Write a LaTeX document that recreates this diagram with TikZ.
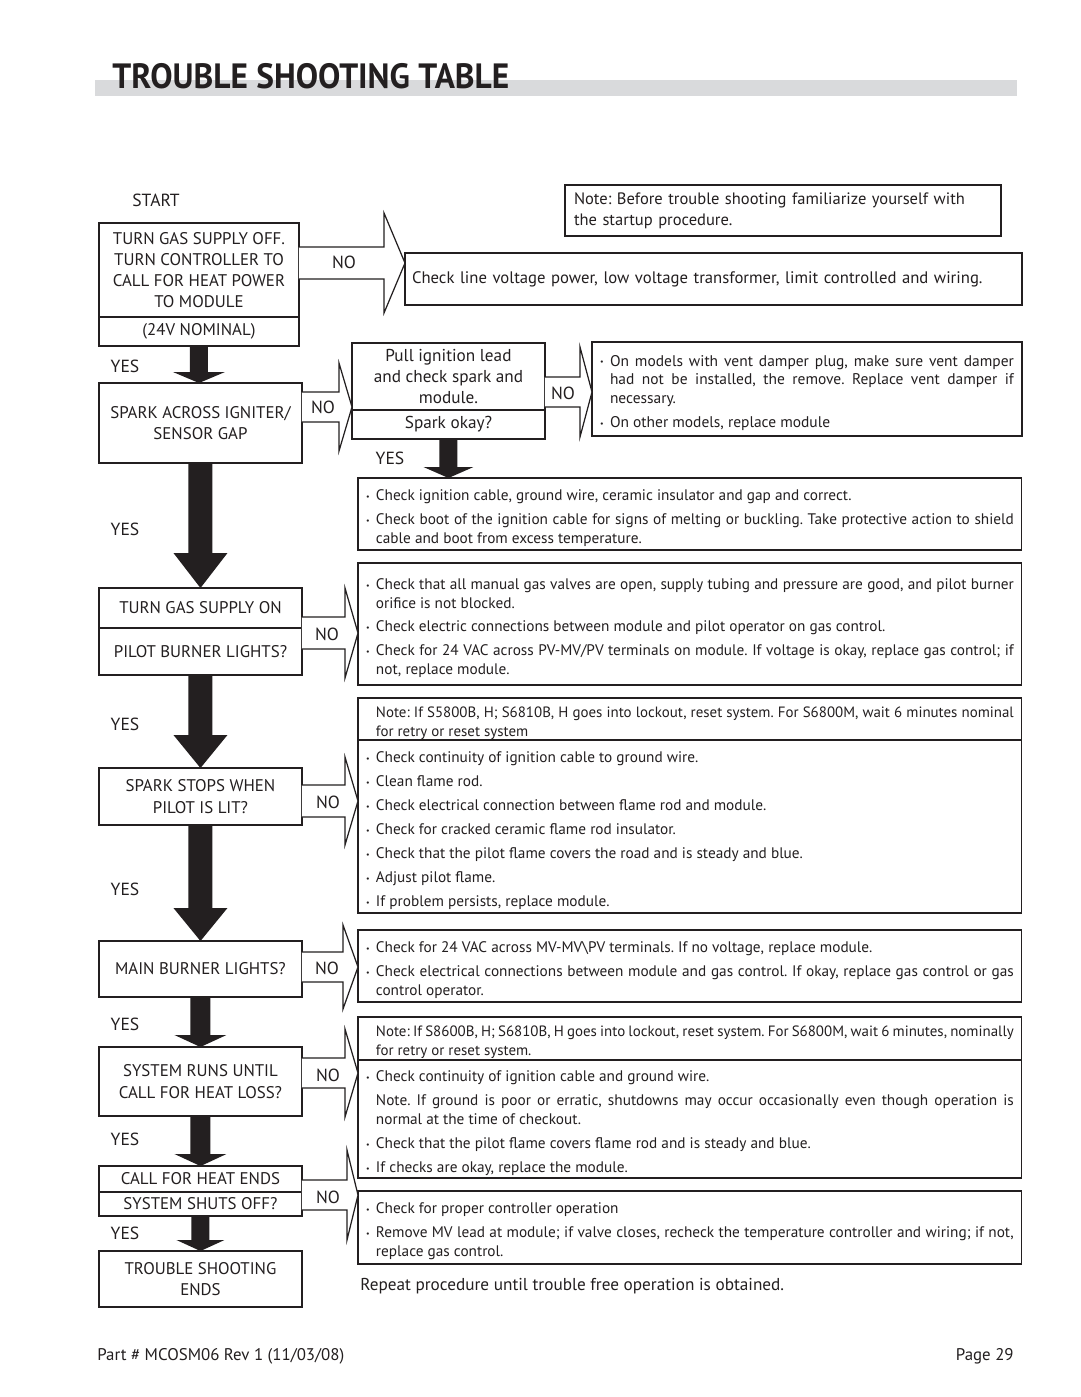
\documentclass[tikz,border=0pt]{standalone}
\usepackage{fontspec}
\setmainfont{PT Sans}
\newfontfamily\titlefont{PT Sans}[FakeStretch=0.95]
\usetikzlibrary{positioning}
\usetikzlibrary{calc}

\definecolor{ink}{HTML}{231F20}
\definecolor{barGray}{HTML}{D9DADC}

\frenchspacing
\newcommand\listfont{\fontsize{8.7}{10.8}\selectfont\frenchspacing\tolerance=10000\hbadness=10000\hyphenpenalty=10000\relax}
\newcommand\notefont{\fontsize{8.5}{10.8}\selectfont\frenchspacing\tolerance=10000\hbadness=10000\hyphenpenalty=10000\relax}
\newcommand\itm{\par\hangindent=0.2cm\hangafter=1\noindent\parskip=2.8pt\relax\hbox to 0.2cm{\raisebox{0.6pt}{\fontsize{4.5}{4.5}\selectfont\textbullet}\hss}}
\newcommand\ntm{\par\hangindent=0.2cm\hangafter=0\noindent\parskip=2.8pt\relax}

\newcommand\yesarrow[5]{%
\fill[yesarr] ($(#1.south)+(-#3,0)$) -- ($(#1.south |- #2.north)+(-#3,-#5)$) -- ($(#1.south |- #2.north)+(-#4,-#5)$) -- (#1.south |- #2.north) -- ($(#1.south |- #2.north)+(#4,-#5)$) -- ($(#1.south |- #2.north)+(#3,-#5)$) -- ($(#1.south)+(#3,0)$) -- cycle;}

\newcommand\noarrow[6]{%
\coordinate (nofrom) at (#1.east |- 0,#3);
\coordinate (noto) at (#2.west |- 0,#3);
\filldraw[noarr] ($(nofrom)+(0,-#4)$) -- ($(noto)+(-#6,-#4)$) -- ($(noto)+(-#6,-#5)$) -- (noto) -- ($(noto)+(-#6,#5)$) -- ($(noto)+(-#6,#4)$) -- ($(nofrom)+(0,#4)$);}

\begin{document}
\begin{tikzpicture}[x=0.02cm, y=-0.02cm,
  lbox/.style={draw=ink, line width=0.7pt, text=ink, align=center, anchor=north west, minimum width=4.06cm, inner sep=0pt, outer sep=0pt, font=\fontsize{9.6}{12.1}\selectfont},
  mbox/.style={draw=ink, line width=0.7pt, text=ink, align=center, anchor=north west, minimum width=3.86cm, inner sep=0pt, outer sep=0pt, font=\fontsize{9.8}{12}\selectfont},
  rbox/.style={draw=ink, line width=0.7pt, text=ink, anchor=north west, align=justify, text width=12.96cm, inner xsep=0.16cm, inner ysep=0pt, outer sep=0pt, font=\listfont},
  lbl/.style={text=ink, inner sep=0pt, font=\fontsize{10}{12}\selectfont},
  noarr/.style={draw=ink, fill=white, line width=0.7pt, line join=miter},
  yesarr/.style={fill=ink}]

\useasboundingbox (0,0) rectangle (1080,1397);
\fill[white] (0,0) rectangle (1080,1397);

\fill[barGray] (95,80) rectangle (1017,96);
\node[anchor=base west, inner sep=0pt, text=ink, font=\titlefont\bfseries\fontsize{20}{20}\selectfont] (title) at (112,88) {TROUBLE SHOOTING TABLE};

\node[lbl] (start) at (156,200) {START};

\node[lbox, minimum width=4cm, minimum height=1.88cm] (supplyoff) at (99,223) {TURN GAS SUPPLY OFF.\\TURN CONTROLLER TO\\CALL FOR HEAT POWER\\TO MODULE};
\node[lbox, minimum width=4cm, minimum height=0.58cm, below=0pt of supplyoff] (nominal) {(24V NOMINAL)};

\node[lbox, minimum height=1.6cm] (sparkgap) at (99,383) {SPARK ACROSS IGNITER/\\SENSOR GAP};

\node[lbox, minimum height=0.8cm] (gason) at (99,588) {TURN GAS SUPPLY ON};
\node[lbox, minimum height=0.94cm, below=0pt of gason] (pilotlights) {PILOT BURNER LIGHTS?};

\node[lbox, minimum height=1.14cm] (sparkstops) at (99,768) {SPARK STOPS WHEN\\PILOT IS LIT?};

\node[lbox, minimum height=1.12cm] (mainlights) at (99,941) {MAIN BURNER LIGHTS?};

\node[lbox, minimum height=1.38cm] (runsuntil) at (99,1047) {SYSTEM RUNS UNTIL\\CALL FOR HEAT LOSS?};

\node[lbox, minimum height=0.52cm] (heatends) at (99,1166) {CALL FOR HEAT ENDS};
\node[lbox, minimum height=0.48cm, below=0pt of heatends] (shutsoff) {SYSTEM SHUTS OFF?};

\node[lbox, minimum height=1.12cm] (tsends) at (99,1251) {TROUBLE SHOOTING\\ENDS};

\node[mbox, minimum height=1.34cm] (pullLead) at (352,343) {Pull ignition lead\\and check spark and\\module.};
\node[mbox, minimum height=0.58cm, below=0pt of pullLead] (sparkok) {Spark okay?};

\node[rbox, align=left, text width=8.36cm, inner xsep=0.18cm, minimum height=1.02cm, font=\fontsize{9.4}{12}\selectfont] (startnote) at (565,185) {Note: Before trouble shooting familiarize yourself with\\the startup procedure.};

\node[rbox, align=left, text width=12.06cm, inner xsep=0.14cm, minimum height=1.04cm, font=\fontsize{9.5}{12}\selectfont] (linecheck) at (405,253) {Check line voltage power, low voltage transformer, limit controlled and wiring.};

\node[rbox, text width=8.28cm, minimum height=1.88cm, font=\listfont\fontsize{8.8}{10.8}\selectfont] (vent) at (592,342) {\itm On models with vent damper plug, make sure vent damper \linebreak had not be installed, the remove. Replace vent damper if \linebreak necessary.
\itm On other models, replace module\par};

\node[rbox, minimum height=1.44cm] (ignition) at (358,478) {\itm Check ignition cable, ground wire, ceramic insulator and gap and correct.
\itm Check boot of the ignition cable for signs of melting or buckling. Take protective action to shield \linebreak cable and boot from excess temperature.\par};

\node[rbox, minimum height=2.44cm] (gascheck) at (358,563) {\itm Check that all manual gas valves are open, supply tubing and pressure are good, and pilot burner \linebreak orifice is not blocked.
\itm Check electric connections between module and pilot operator on gas control.
\itm Check for 24 VAC across PV-MV/PV terminals on module. If voltage is okay, replace gas control; if \linebreak not, replace module.\par};

\node[rbox, minimum height=0.84cm, font=\notefont] (lockA) at (358,698) {\ntm Note: If S5800B, H; S6810B, H goes into lockout, reset system. For S6800M, wait 6 minutes nominal \linebreak for retry or reset system\par};
\node[rbox, minimum height=3.46cm] (flamerod) at (358,740) {\itm Check continuity of ignition cable to ground wire.
\itm Clean flame rod.
\itm Check electrical connection between flame rod and module.
\itm Check for cracked ceramic flame rod insulator.
\itm Check that the pilot flame covers the road and is steady and blue.
\itm Adjust pilot flame.
\itm If problem persists, replace module.\par};

\node[rbox, minimum height=1.44cm] (mvcheck) at (358,930) {\itm Check for 24 VAC across MV-MV\textbackslash PV terminals. If no voltage, replace module.
\itm Check electrical connections between module and gas control. If okay, replace gas control or gas \linebreak control operator.\par};

\node[rbox, minimum height=0.86cm, font=\notefont] (lockB) at (358,1017) {\ntm Note: If S8600B, H; S6810B, H goes into lockout, reset system. For S6800M, wait 6 minutes, nominally \linebreak for retry or reset system.\par};
\node[rbox, minimum height=2.36cm] (continuity) at (358,1060) {\itm Check continuity of ignition cable and ground wire.
\ntm Note. If ground is poor or erratic, shutdowns may occur occasionally even though operation is \linebreak normal at the time of checkout.
\itm Check that the pilot flame covers flame rod and is steady and blue.
\itm If checks are okay, replace the module.\par};

\node[rbox, minimum height=1.46cm] (controller) at (358,1191) {\itm Check for proper controller operation
\itm Remove MV lead at module; if valve closes, recheck the temperature controller and wiring; if not, \linebreak replace gas control.\par};

\node[anchor=base west, inner sep=0pt, text=ink, font=\fontsize{9.8}{11}\selectfont] (repeat) at (360,1290) {Repeat procedure until trouble free operation is obtained.};

\yesarrow{nominal}{sparkgap}{9}{26}{11}
\yesarrow{sparkgap}{gason}{12}{27}{35}
\yesarrow{pilotlights}{sparkstops}{12}{27}{33}
\yesarrow{sparkstops}{mainlights}{12}{27}{33}
\yesarrow{mainlights}{runsuntil}{10}{26}{12}
\yesarrow{runsuntil}{heatends}{10}{26}{12}
\yesarrow{shutsoff}{tsends}{9}{24}{11}
\yesarrow{sparkok}{ignition}{9}{25}{11}

\noarrow{supplyoff}{linecheck}{263}{16}{50}{21}
\noarrow{sparkgap}{pullLead}{407}{15}{44}{13}
\noarrow{pullLead}{vent}{392}{15}{45}{12}
\noarrow{gason}{gascheck}{633}{16}{45}{13}
\noarrow{sparkstops}{flamerod}{801}{16}{44}{13}
\noarrow{mainlights}{mvcheck}{967}{15}{42}{15}
\noarrow{runsuntil}{continuity}{1073}{15}{44}{13}
\noarrow{heatends}{controller}{1195}{15}{45}{11}

\node[lbl] (yes1) at (125,366) {YES};
\node[lbl] (yes2) at (125,529) {YES};
\node[lbl] (yes3) at (125,724) {YES};
\node[lbl] (yes4) at (125,889) {YES};
\node[lbl] (yes5) at (125,1024) {YES};
\node[lbl] (yes6) at (125,1139) {YES};
\node[lbl] (yes7) at (125,1233) {YES};
\node[lbl] (yes8) at (390,458) {YES};

\node[lbl] (no1) at (344,262) {NO};
\node[lbl] (no2) at (323,407) {NO};
\node[lbl] (no3) at (563,393) {NO};
\node[lbl] (no4) at (327,634) {NO};
\node[lbl] (no5) at (328,802) {NO};
\node[lbl] (no6) at (327,968) {NO};
\node[lbl] (no7) at (328,1075) {NO};
\node[lbl] (no8) at (328,1197) {NO};

\node[anchor=base west, inner sep=0pt, text=ink, font=\fontsize{9.6}{11}\selectfont] (partno) at (97,1360) {Part \# MCOSM06 Rev 1 (11/03/08)};
\node[anchor=base east, inner sep=0pt, text=ink, font=\fontsize{9.6}{11}\selectfont] (pagenum) at (1014,1360) {Page 29};

\end{tikzpicture}
\end{document}
